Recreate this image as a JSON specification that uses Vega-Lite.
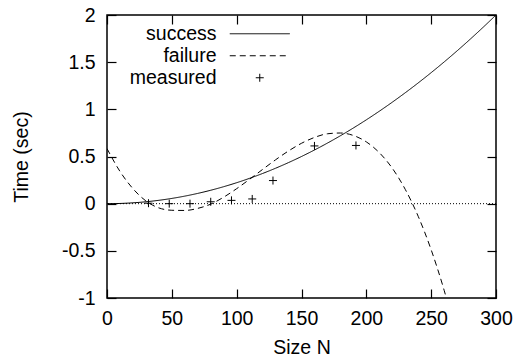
{
  "$schema": "https://vega.github.io/schema/vega-lite/v6.json",
  "autosize": {"type": "none"},
  "padding": {"left": 107, "top": 15, "right": 23, "bottom": 62},
  "width": 389,
  "height": 283,
  "background": "white",
  "config": {
    "font": "Liberation Sans",
    "view": {"stroke": "black", "strokeWidth": 1.5},
    "axis": {
      "domain": false,
      "grid": false,
      "ticks": true,
      "zindex": 1,
      "tickColor": "black",
      "tickOpacity": 1,
      "tickSize": 9,
      "offset": -9,
      "tickWidth": 1.2,
      "labelColor": "black",
      "labelFont": "Liberation Sans",
      "labelFontSize": 19.5,
      "titleFont": "Liberation Sans",
      "titleFontSize": 19.5,
      "titleFontWeight": "normal",
      "titleColor": "black"
    },
    "legend": {
      "labelFont": "Liberation Sans",
      "labelFontSize": 19.5,
      "labelColor": "black",
      "padding": 0
    }
  },
  "datasets": {
    "curves": [
      {"N": 0, "time": 0, "series": "success"},
      {"N": 10, "time": 0.0022, "series": "success"},
      {"N": 20, "time": 0.0089, "series": "success"},
      {"N": 30, "time": 0.02, "series": "success"},
      {"N": 40, "time": 0.0356, "series": "success"},
      {"N": 50, "time": 0.0556, "series": "success"},
      {"N": 60, "time": 0.08, "series": "success"},
      {"N": 70, "time": 0.1089, "series": "success"},
      {"N": 80, "time": 0.1422, "series": "success"},
      {"N": 90, "time": 0.18, "series": "success"},
      {"N": 100, "time": 0.2222, "series": "success"},
      {"N": 110, "time": 0.2689, "series": "success"},
      {"N": 120, "time": 0.32, "series": "success"},
      {"N": 130, "time": 0.3756, "series": "success"},
      {"N": 140, "time": 0.4356, "series": "success"},
      {"N": 150, "time": 0.5, "series": "success"},
      {"N": 160, "time": 0.5689, "series": "success"},
      {"N": 170, "time": 0.6422, "series": "success"},
      {"N": 180, "time": 0.72, "series": "success"},
      {"N": 190, "time": 0.8022, "series": "success"},
      {"N": 200, "time": 0.8889, "series": "success"},
      {"N": 210, "time": 0.98, "series": "success"},
      {"N": 220, "time": 1.0756, "series": "success"},
      {"N": 230, "time": 1.1756, "series": "success"},
      {"N": 240, "time": 1.28, "series": "success"},
      {"N": 250, "time": 1.3889, "series": "success"},
      {"N": 260, "time": 1.5022, "series": "success"},
      {"N": 270, "time": 1.62, "series": "success"},
      {"N": 280, "time": 1.7422, "series": "success"},
      {"N": 290, "time": 1.8689, "series": "success"},
      {"N": 300, "time": 2.0, "series": "success"},
      {"N": 0, "time": 0.584, "series": "failure"},
      {"N": 10, "time": 0.342, "series": "failure"},
      {"N": 20, "time": 0.159, "series": "failure"},
      {"N": 30, "time": 0.029, "series": "failure"},
      {"N": 40, "time": -0.045, "series": "failure"},
      {"N": 50, "time": -0.07, "series": "failure"},
      {"N": 60, "time": -0.072, "series": "failure"},
      {"N": 70, "time": -0.05, "series": "failure"},
      {"N": 80, "time": -0.005, "series": "failure"},
      {"N": 90, "time": 0.069, "series": "failure"},
      {"N": 100, "time": 0.159, "series": "failure"},
      {"N": 110, "time": 0.259, "series": "failure"},
      {"N": 120, "time": 0.363, "series": "failure"},
      {"N": 130, "time": 0.465, "series": "failure"},
      {"N": 140, "time": 0.559, "series": "failure"},
      {"N": 150, "time": 0.64, "series": "failure"},
      {"N": 160, "time": 0.702, "series": "failure"},
      {"N": 170, "time": 0.741, "series": "failure"},
      {"N": 180, "time": 0.749, "series": "failure"},
      {"N": 190, "time": 0.723, "series": "failure"},
      {"N": 200, "time": 0.655, "series": "failure"},
      {"N": 210, "time": 0.541, "series": "failure"},
      {"N": 220, "time": 0.376, "series": "failure"},
      {"N": 230, "time": 0.152, "series": "failure"},
      {"N": 240, "time": -0.134, "series": "failure"},
      {"N": 250, "time": -0.489, "series": "failure"},
      {"N": 255, "time": -0.694, "series": "failure"},
      {"N": 260, "time": -0.918, "series": "failure"},
      {"N": 261.7, "time": -1.0, "series": "failure"}
    ],
    "measured": [
      {"N": 32, "time": 0.005, "kind": "measured"},
      {"N": 48, "time": 0.0, "kind": "measured"},
      {"N": 64, "time": 0.0, "kind": "measured"},
      {"N": 80, "time": 0.02, "kind": "measured"},
      {"N": 96, "time": 0.035, "kind": "measured"},
      {"N": 112, "time": 0.05, "kind": "measured"},
      {"N": 128, "time": 0.245, "kind": "measured"},
      {"N": 160, "time": 0.612, "kind": "measured"},
      {"N": 192, "time": 0.617, "kind": "measured"}
    ],
    "zero": [{"level": 0}]
  },
  "layer": [
    {
      "data": {"name": "zero"},
      "mark": {"type": "rule", "color": "black", "strokeWidth": 1, "strokeDash": [1, 2]},
      "encoding": {"y": {"field": "level", "type": "quantitative", "axis": null}}
    },
    {
      "data": {"name": "curves"},
      "mark": {"type": "line", "color": "black", "strokeWidth": 1, "interpolate": "monotone", "clip": true},
      "encoding": {
        "x": {
          "field": "N", "type": "quantitative",
          "scale": {"domain": [0, 300], "nice": false},
          "axis": {"orient": "bottom", "values": [0, 50, 100, 150, 200, 250, 300], "title": "Size N", "labelPadding": 11, "titlePadding": 11, "labelFlush": false}
        },
        "y": {
          "field": "time", "type": "quantitative",
          "scale": {"domain": [-1, 2], "nice": false, "zero": false},
          "axis": {"orient": "left", "values": [-1, -0.5, 0, 0.5, 1, 1.5, 2], "format": "~g", "labelExpr": "replace(datum.label, '\u2212', '-')", "title": "Time (sec)", "labelPadding": 12, "titlePadding": 30, "labelFlush": false}
        },
        "strokeDash": {
          "field": "series", "type": "nominal",
          "scale": {"domain": ["success", "failure"], "range": [[1, 0], [6, 4]]},
          "legend": {
            "orient": "none", "legendX": 143, "legendY": 9, "title": null,
            "symbolType": "M-6,0H6", "symbolSize": 100, "symbolStrokeColor": "black", "symbolStrokeWidth": 1,
            "labelAlign": "right", "labelOffset": -53, "rowPadding": 1
          }
        }
      }
    },
    {
      "data": {"name": "measured"},
      "mark": {"type": "point", "filled": false, "color": "black", "strokeWidth": 1, "size": 64, "opacity": 1},
      "encoding": {
        "x": {"field": "N", "type": "quantitative", "axis": {"orient": "top", "values": [0, 50, 100, 150, 200, 250, 300], "labels": false, "title": null}},
        "y": {"field": "time", "type": "quantitative", "axis": {"orient": "right", "values": [-1, -0.5, 0, 0.5, 1, 1.5, 2], "labels": false, "title": null}},
        "shape": {
          "field": "kind", "type": "nominal",
          "scale": {"domain": ["measured"], "range": ["M-1,0H1M0,-1V1"]},
          "legend": {
            "orient": "none", "legendX": 143, "legendY": 53, "title": null,
            "symbolSize": 64, "symbolStrokeColor": "black", "symbolStrokeWidth": 1, "symbolFillColor": "transparent",
            "labelAlign": "right", "labelOffset": -53, "rowPadding": 0
          }
        }
      }
    }
  ],
  "resolve": {"axis": {"x": "independent", "y": "independent"}}
}
